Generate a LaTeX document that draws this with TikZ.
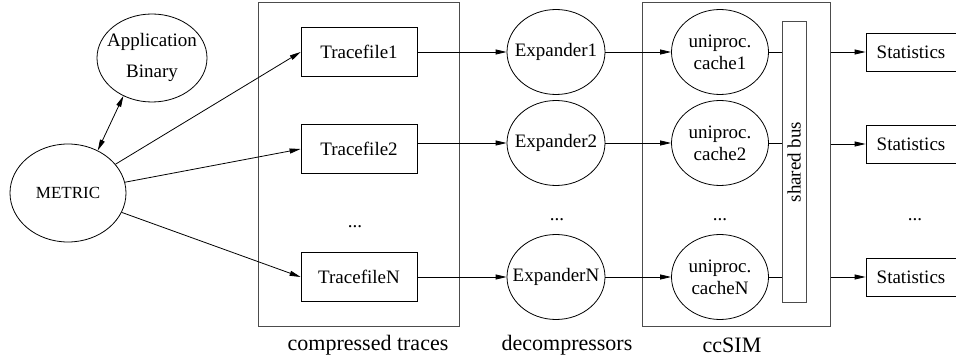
\documentclass[tikz,border=0pt]{standalone}
\usepackage{fontspec}
\setmainfont{Liberation Serif}
\usetikzlibrary{shapes.geometric,arrows.meta}
\newcommand{\squeeze}[1]{\makebox[0pt]{#1}}
\begin{document}
\begin{tikzpicture}[x=1pt,y=-1pt,
	every node/.style={font=\fontsize{19}{22}\selectfont},
	oval/.style={draw,ellipse,inner sep=0pt,line width=0.8pt},
	filebox/.style={draw,rectangle,inner sep=0pt,line width=0.8pt},
	group/.style={draw=black!70,rectangle,inner sep=0pt,line width=1pt},
	arr/.style={-{Triangle[length=11pt,width=5pt]},line width=0.8pt},
	caption/.style={font=\fontsize{22}{26}\selectfont}]
	\useasboundingbox (0,0) rectangle (956,358);
		% groups
		\node[group,minimum width=201pt,minimum height=323pt] (traces) at (358.5,164.5) {};
		\node[group,minimum width=188pt,minimum height=323pt] (ccsim) at (736,164.5) {};
		\node[caption] (captr) at (368,345) {compressed traces};
		\node[caption] (capdec) at (567,345) {decompressors};
		\node[caption] (capsim) at (732,345) {ccSIM};
		% metric and binary
		\node[oval,minimum width=110pt,minimum height=88pt] (app) at (152,58) {\squeeze{\begin{tabular}{@{}c@{}}Application\\[9pt]Binary\end{tabular}}};
		\node[oval,minimum width=116pt,minimum height=98pt,font=\fontsize{17}{20}\selectfont] (metric) at (68,193) {METRIC};
			\draw[arr,{Triangle[length=11pt,width=5pt]}-{Triangle[length=11pt,width=5pt]}] (app.233) -- (metric.55);
		% tracefiles
		\node[filebox,minimum width=116pt,minimum height=49pt] (tf1) at (359,52) {Tracefile1};
		\node[filebox,minimum width=116pt,minimum height=49pt] (tf2) at (359,149) {Tracefile2};
		\node (tfdots) at (355,227) {...};
		\node[filebox,minimum width=116pt,minimum height=49pt] (tfn) at (359,277) {TracefileN};
			\draw[arr] (metric) -- (tf1.west);
			\draw[arr] (metric) -- (tf2.west);
			\draw[arr] (metric) -- (tfn.west);
		% expanders
		\node[oval,minimum width=98pt,minimum height=85pt] (ex1) at (556,52) {\squeeze{Expander1}};
		\node[oval,minimum width=98pt,minimum height=85pt] (ex2) at (556,143) {\squeeze{Expander2}};
		\node (exdots) at (557,220) {...};
		\node[oval,minimum width=98pt,minimum height=85pt] (exn) at (556,277) {\squeeze{ExpanderN}};
			\draw[arr] (tf1) -- (ex1);
			\draw[arr] (tf2.east |- ex2) -- (ex2);
			\draw[arr] (tfn) -- (exn);
		% caches and bus
		\node[oval,minimum width=97pt,minimum height=85pt,align=center] (ca1) at (720,52) {uniproc.\\cache1};
		\node[oval,minimum width=97pt,minimum height=85pt,align=center] (ca2) at (720,143) {uniproc.\\cache2};
		\node (cadots) at (720,220) {...};
		\node[oval,minimum width=97pt,minimum height=85pt,align=center] (can) at (720,277) {uniproc.\\cacheN};
		\node[group,minimum width=24pt,minimum height=280pt] (bus) at (794,162) {};
		\node[rotate=90] (buslabel) at (bus.center) {shared bus};
			\draw[arr] (ex1) -- (ca1);
			\draw[arr] (ex2) -- (ca2);
			\draw[arr] (exn) -- (can);
			\draw[line width=0.8pt] (ca1) -- (bus.west |- ca1);
			\draw[line width=0.8pt] (ca2) -- (bus.west |- ca2);
			\draw[line width=0.8pt] (can) -- (bus.west |- can);
		% statistics
		\node[filebox,minimum width=90pt,minimum height=38pt] (st1) at (911,52) {Statistics};
		\node[filebox,minimum width=90pt,minimum height=38pt] (st2) at (911,144) {Statistics};
		\node (stdots) at (915,220) {...};
		\node[filebox,minimum width=90pt,minimum height=38pt] (stn) at (911,277) {Statistics};
			\draw[arr] (ccsim.east |- st1) -- (st1);
			\draw[arr] (ccsim.east |- st2) -- (st2);
			\draw[arr] (ccsim.east |- stn) -- (stn);
\end{tikzpicture}
\end{document}
